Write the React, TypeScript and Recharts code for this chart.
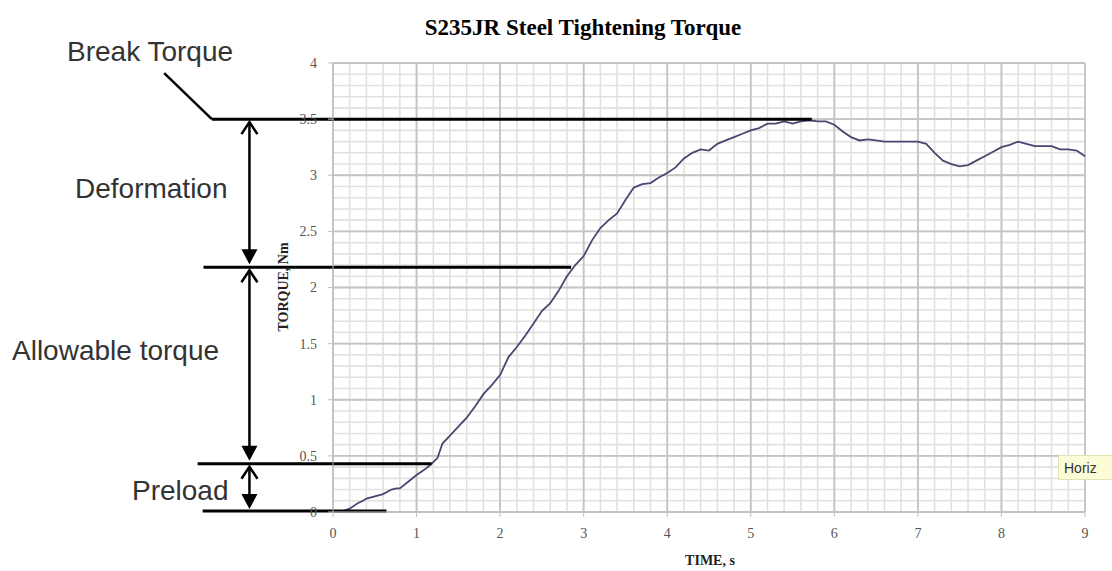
import { LineChart, Line, XAxis, YAxis, ReferenceLine } from "recharts";

// Tightening run: time (s) vs torque (Nm)
const time = [
  0.1, 0.16, 0.2, 0.3, 0.36, 0.4, 0.5, 0.6, 0.7, 0.76, 0.8, 0.9, 1.0, 1.1, 1.18, 1.25, 1.31, 1.4, 1.5, 1.6,
  1.7, 1.8, 1.9, 2.0, 2.1, 2.2, 2.3, 2.4, 2.5, 2.6, 2.7, 2.8, 2.9, 3.0, 3.1, 3.2, 3.3, 3.4, 3.5, 3.6,
  3.7, 3.8, 3.9, 4.0, 4.1, 4.2, 4.3, 4.4, 4.5, 4.6, 4.7, 4.8, 4.9, 5.0, 5.1, 5.2, 5.3, 5.4, 5.5, 5.6,
  5.7, 5.8, 5.9, 6.0, 6.1, 6.2, 6.3, 6.4, 6.5, 6.6, 6.7, 6.8, 6.9, 7.0, 7.1, 7.2, 7.3, 7.4, 7.5, 7.6,
  7.7, 7.8, 7.9, 8.0, 8.1, 8.2, 8.3, 8.4, 8.5, 8.6, 8.7, 8.8, 8.9, 9.0,
];
const torque = [
  0, 0.02, 0.03, 0.08, 0.1, 0.12, 0.14, 0.16, 0.2, 0.21, 0.21, 0.27, 0.33, 0.38, 0.43, 0.48, 0.61, 0.68, 0.76, 0.84,
  0.94, 1.05, 1.13, 1.22, 1.38, 1.47, 1.57, 1.68, 1.79, 1.86, 1.97, 2.1, 2.2, 2.28, 2.42, 2.53, 2.6, 2.66, 2.78, 2.89,
  2.92, 2.93, 2.98, 3.02, 3.07, 3.15, 3.2, 3.23, 3.22, 3.28, 3.31, 3.34, 3.37, 3.4, 3.42, 3.46, 3.46, 3.48, 3.46, 3.48,
  3.49, 3.48, 3.48, 3.45, 3.39, 3.34, 3.31, 3.32, 3.31, 3.3, 3.3, 3.3, 3.3, 3.3, 3.28, 3.2, 3.13, 3.1, 3.08, 3.09,
  3.13, 3.17, 3.21, 3.25, 3.27, 3.3, 3.28, 3.26, 3.26, 3.26, 3.23, 3.23, 3.22, 3.17,
];

const xTicks = [0, 1, 2, 3, 4, 5, 6, 7, 8, 9];
const yTicks = [0, 0.5, 1, 1.5, 2, 2.5, 3, 3.5, 4];

// torque levels marked on the left
const BREAK = 3.5;
const ALLOWABLE = 2.18;
const PRELOAD = 0.43;
const ZERO = 0.01;

const data = time.map((t, i) => ({ t, torque: torque[i] }));

// minor grid every 0.2 s and 0.1 Nm
const minorX = Array.from({ length: 46 }, (_, i) => +(i * 0.2).toFixed(1));
const minorY = Array.from({ length: 41 }, (_, i) => +(i * 0.1).toFixed(1));

const SERIF = "'Liberation Serif', 'DejaVu Serif', serif";
const SANS = "'Liberation Sans', Arial, sans-serif";

// vertical double arrow: open head on top, filled head at the bottom
function DoubleArrow(props: any) {
  const { x1, y1, y2 } = props;
  const x = x1;
  const top = Math.min(y1, y2) + 2;
  const bottom = Math.max(y1, y2) - 3;
  return (
    <g>
      <line x1={x} y1={top + 1} x2={x} y2={bottom - 12} stroke="#000" strokeWidth={2.5} />
      <polyline
        points={`${x - 8},${top + 13} ${x},${top + 1} ${x + 8},${top + 13}`}
        fill="none"
        stroke="#000"
        strokeWidth={2.5}
      />
      <polygon points={`${x - 8},${bottom - 15} ${x + 8},${bottom - 15} ${x},${bottom}`} fill="#000" />
    </g>
  );
}

const lineProps = { stroke: "#000", strokeWidth: 3, ifOverflow: "visible" as const };

export default function App() {
  return (
    <div
      style={{
        position: "fixed",
        left: 0,
        top: 0,
        width: 1112,
        height: 571,
        background: "#fff",
        overflow: "hidden",
      }}
    >
      <LineChart width={1112} height={571} data={data} margin={{ top: 63, right: 27, bottom: 0, left: 283 }}>
        {minorX.map((v) => (
          <ReferenceLine key={`mx${v}`} x={v} stroke="#e1e1e1" strokeWidth={1.6} />
        ))}
        {minorY.map((v) => (
          <ReferenceLine key={`my${v}`} y={v} stroke="#e1e1e1" strokeWidth={1.6} />
        ))}
        {xTicks.map((v) => (
          <ReferenceLine key={`gx${v}`} x={v} stroke="#c4c4c4" strokeWidth={1.8} />
        ))}
        {yTicks.map((v) => (
          <ReferenceLine key={`gy${v}`} y={v} stroke="#c4c4c4" strokeWidth={1.8} />
        ))}
        <XAxis
          type="number"
          dataKey="t"
          domain={[0, 9]}
          ticks={xTicks}
          height={59}
          tickSize={5}
          tickMargin={11}
          stroke="#c0c0c0"
          tick={{ fontSize: 14, fontFamily: SERIF, fill: "#555" }}
        />
        <YAxis
          type="number"
          domain={[0, 4]}
          ticks={yTicks}
          width={50}
          tickSize={5}
          tickMargin={11}
          stroke="#c0c0c0"
          tick={{ fontSize: 14, fontFamily: SERIF, fill: "#555" }}
        />
        <Line
          type="linear"
          dataKey="torque"
          stroke="#4e4470"
          strokeWidth={1.8}
          dot={false}
          isAnimationActive={false}
        />
        <ReferenceLine segment={[{ x: -1.45, y: BREAK }, { x: 5.73, y: BREAK }]} {...lineProps} />
        <ReferenceLine segment={[{ x: -2.02, y: 3.91 }, { x: -1.45, y: BREAK }]} {...lineProps} strokeWidth={2.5} />
        <ReferenceLine segment={[{ x: -1.55, y: ALLOWABLE }, { x: 2.85, y: ALLOWABLE }]} {...lineProps} />
        <ReferenceLine segment={[{ x: -1.62, y: PRELOAD }, { x: 1.18, y: PRELOAD }]} {...lineProps} />
        <ReferenceLine segment={[{ x: -1.56, y: ZERO }, { x: 0.64, y: ZERO }]} {...lineProps} />
        <ReferenceLine
          segment={[{ x: -1, y: BREAK }, { x: -1, y: ALLOWABLE }]}
          ifOverflow="visible"
          shape={(p: any) => <DoubleArrow {...p} />}
        />
        <ReferenceLine
          segment={[{ x: -1, y: ALLOWABLE }, { x: -1, y: PRELOAD }]}
          ifOverflow="visible"
          shape={(p: any) => <DoubleArrow {...p} />}
        />
        <ReferenceLine
          segment={[{ x: -1, y: PRELOAD }, { x: -1, y: 0 }]}
          ifOverflow="visible"
          shape={(p: any) => <DoubleArrow {...p} />}
        />
      </LineChart>

      <svg width={1112} height={571} style={{ position: "absolute", left: 0, top: 0, pointerEvents: "none" }}>
        <text x={583} y={35} textAnchor="middle" fontFamily={SERIF} fontWeight="bold" fontSize={23} fill="#000">
          S235JR Steel Tightening Torque
        </text>
        <text x={710} y={565} textAnchor="middle" fontFamily={SERIF} fontWeight="bold" fontSize={14} fill="#222">
          TIME, s
        </text>
        <text
          transform="translate(288,287) rotate(-90)"
          textAnchor="middle"
          fontFamily={SERIF}
          fontWeight="bold"
          fontSize={14}
          fill="#222"
        >
          TORQUE, Nm
        </text>
        <g fontFamily={SANS} fontSize={28} fill="#333">
          <text x={67} y={61}>Break Torque</text>
          <text x={75} y={198}>Deformation</text>
          <text x={12} y={360}>Allowable torque</text>
          <text x={132} y={500}>Preload</text>
        </g>
      </svg>

      <div
        style={{
          position: "absolute",
          left: 1058,
          top: 455,
          width: 70,
          height: 25,
          background: "#fcfcd6",
          border: "1px solid #e2e2b4",
          fontFamily: SANS,
          fontSize: 14,
          color: "#333",
          lineHeight: "25px",
          paddingLeft: 5,
          boxSizing: "border-box",
        }}
      >
        Horiz
      </div>
    </div>
  );
}
